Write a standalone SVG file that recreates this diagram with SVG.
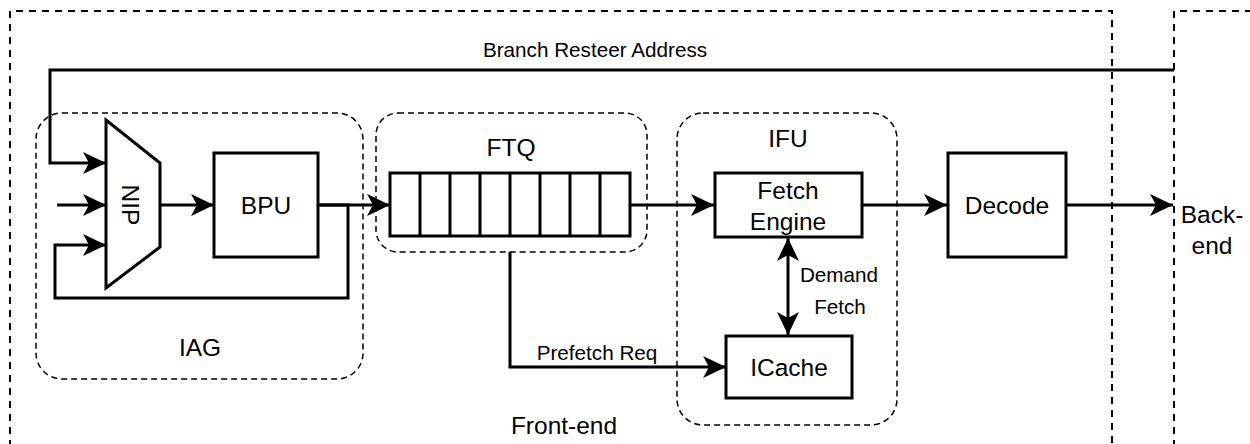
<svg xmlns="http://www.w3.org/2000/svg" width="1250" height="444" viewBox="0 0 1250 444">
  <style>
    .box { fill: #fff; stroke: #000; stroke-width: 3; }
    .wire { fill: none; stroke: #000; stroke-width: 3; }
    .region { fill: none; stroke: #000; stroke-width: 1.5; stroke-dasharray: 6 4; }
    .stage { fill: none; stroke: #000; stroke-width: 2; stroke-dasharray: 7 6; }
    text { font-family: "Liberation Sans", Arial, sans-serif; fill: #000; text-anchor: middle; dominant-baseline: central; }
    .lg { font-size: 24.5px; }
    .sm { font-size: 20.7px; }
  </style>
  <defs>
    <marker id="arrow" markerUnits="userSpaceOnUse" markerWidth="26" markerHeight="26" viewBox="-24 -12 26 24" refX="0" refY="0" orient="auto-start-reverse">
      <path d="M0,0 L-23,-11 L-17,0 L-23,11 Z" fill="#000"/>
    </marker>
  </defs>

  <rect width="1250" height="444" fill="#fff"/>

  <!-- pipeline stages -->
  <g id="front-end">
    <path class="stage" d="M10,460 V11 H1112 V460"/>
    <text class="lg" x="564" y="425">Front-end</text>
  </g>
  <g id="back-end">
    <path class="stage" d="M1174,460 V11 H1260"/>
    <text class="lg" x="1212" y="214">Back-</text>
    <text class="lg" x="1212" y="245">end</text>
  </g>

  <!-- sub-units -->
  <g id="iag">
    <rect class="region" x="36" y="113" width="327" height="266" rx="26"/>
    <text class="lg" x="200" y="347">IAG</text>
  </g>
  <g id="ftq">
    <rect class="region" x="376" y="113" width="271" height="139" rx="22"/>
    <text class="lg" x="511" y="147">FTQ</text>
  </g>
  <g id="ifu">
    <rect class="region" x="677" y="113" width="220" height="312" rx="26"/>
    <text class="lg" x="788" y="138">IFU</text>
  </g>

  <!-- connectors -->
  <g id="connectors">
    <path class="wire" d="M1174,70 H50 V163 H106" marker-end="url(#arrow)"/>
    <path class="wire" d="M57,205 H106" marker-end="url(#arrow)"/>
    <path class="wire" d="M318,205 H348 V298 H55 V245 H106" marker-end="url(#arrow)"/>
    <path class="wire" d="M160,205 H214" marker-end="url(#arrow)"/>
    <path class="wire" d="M318,205 H390" marker-end="url(#arrow)"/>
    <path class="wire" d="M630,205 H714" marker-end="url(#arrow)"/>
    <path class="wire" d="M510,252 V367 H726" marker-end="url(#arrow)"/>
    <path class="wire" d="M788,238 V335" marker-start="url(#arrow)" marker-end="url(#arrow)"/>
    <path class="wire" d="M862,205 H947" marker-end="url(#arrow)"/>
    <path class="wire" d="M1066,205 H1173" marker-end="url(#arrow)"/>
    <text class="sm" x="595" y="49">Branch Resteer Address</text>
    <text class="sm" x="597" y="352">Prefetch Req</text>
    <text class="sm" x="839" y="274">Demand</text>
    <text class="sm" x="840" y="306">Fetch</text>
  </g>

  <!-- blocks -->
  <g id="nip">
    <path class="box" d="M106,120 L160,163 V247 L106,288 Z"/>
    <text class="lg" transform="translate(130,205) rotate(90)">NIP</text>
  </g>
  <g id="bpu">
    <rect class="box" x="214" y="153" width="104" height="104"/>
    <text class="lg" x="266" y="205">BPU</text>
  </g>
  <g id="ftq-queue">
    <rect class="box" x="390" y="173" width="240" height="63"/>
    <path class="wire" d="M420,173 V236 M450,173 V236 M480,173 V236 M510,173 V236 M540,173 V236 M570,173 V236 M600,173 V236"/>
  </g>
  <g id="fetch-engine">
    <rect class="box" x="715" y="173" width="147" height="64"/>
    <text class="lg" x="788" y="190">Fetch</text>
    <text class="lg" x="788" y="221">Engine</text>
  </g>
  <g id="icache">
    <rect class="box" x="726" y="336" width="126" height="62"/>
    <text class="lg" x="789" y="367">ICache</text>
  </g>
  <g id="decode">
    <rect class="box" x="948" y="153" width="118" height="104"/>
    <text class="lg" x="1007" y="205">Decode</text>
  </g>
</svg>
